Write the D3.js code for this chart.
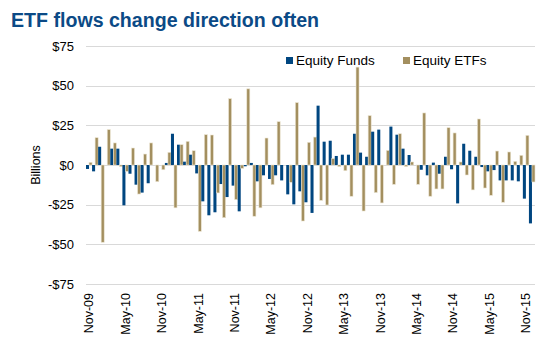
<!DOCTYPE html>
<html>
<head>
<meta charset="utf-8">
<script src="https://cdn.jsdelivr.net/npm/d3@7"></script>
<style>
  body { margin: 0; background: #fff; }
  text { font-family: "Liberation Sans", Arial, sans-serif; }
</style>
</head>
<body>
<div id="chart"></div>
<script>
// monthly flows, Nov-09 .. Dec-15 (billions of dollars)
var months = ["Nov-09","Dec-09","Jan-10","Feb-10","Mar-10","Apr-10","May-10","Jun-10","Jul-10","Aug-10","Sep-10","Oct-10",
  "Nov-10","Dec-10","Jan-11","Feb-11","Mar-11","Apr-11","May-11","Jun-11","Jul-11","Aug-11","Sep-11","Oct-11",
  "Nov-11","Dec-11","Jan-12","Feb-12","Mar-12","Apr-12","May-12","Jun-12","Jul-12","Aug-12","Sep-12","Oct-12",
  "Nov-12","Dec-12","Jan-13","Feb-13","Mar-13","Apr-13","May-13","Jun-13","Jul-13","Aug-13","Sep-13","Oct-13",
  "Nov-13","Dec-13","Jan-14","Feb-14","Mar-14","Apr-14","May-14","Jun-14","Jul-14","Aug-14","Sep-14","Oct-14",
  "Nov-14","Dec-14","Jan-15","Feb-15","Mar-15","Apr-15","May-15","Jun-15","Jul-15","Aug-15","Sep-15","Oct-15",
  "Nov-15","Dec-15"];

var equityFunds = [-2.5, -4, 11.5, 0, 10.3, 10.3, -25.4, -5.5, -12.4, -17.4, -11.5, 0,
  0, 1.3, 19.7, 12.8, 2.1, 6.5, -5.3, -22.9, -31.7, -29.8, -12, -20.2,
  -13, -29.2, -0.8, 1.3, -10.3, -6.5, -8.8, -6.5, -9.7, -18.5, -24.8, -16.6,
  -23.5, -30.2, 37.4, 14.7, 15.3, 5.7, 6.5, 6.5, 19.7, 7.8, 5.2, 21,
  22.3, 0, 24.2, 19.1, 10.3, 6.3, 0, -3, -6.5, 1.5, -5.5, 5.2,
  -2.7, -24.2, 13.4, 9, 5.2, -1.3, -4, -3.2, -9.7, -9.7, -9.7, -10.3,
  -21.2, -36.8];

var equityETFs = [1.7, 17.2, -48.7, 22.3, 13.9, -1, -4, 10.7, -18.3, 6.9, 13.9, -10.5,
  -3, 8, -27, 12.8, 14.9, 9, -41.8, 19.1, 18.9, -17.6, -33.2, 41.8,
  -21.8, -2.1, 48, -32.3, -27, 17, -12.4, 27.3, 0, -10.9, 39.3, -35.3,
  14.3, 17.6, -22.3, -25.2, 4, -1, -3.6, -19.7, 61.7, -29, 31.1, -17.4,
  -23.9, 9.2, -12.2, 19.7, -1, 1.9, -12.2, 32.8, -19.7, -15.1, -15.1, 23.5,
  20.2, 1.9, -6.3, -15.7, 29, -14.5, -19.1, 8.8, -23.5, 8.2, 2.3, 6.1,
  18.7, -10.7];

var seriesNames = ["Equity Funds", "Equity ETFs"];
var seriesColors = ["#004680", "#a38f5f"];
var yTicks = [-75, -50, -25, 0, 25, 50, 75];
var xLabelEvery = 6;

var width = 553, height = 348;
var margin = {top: 46, right: 18, bottom: 64, left: 86};

var svg = d3.select("#chart").append("svg")
    .attr("width", width)
    .attr("height", height);

svg.append("text")
    .attr("x", 11)
    .attr("y", 27)
    .style("font-size", "19.6px")
    .style("font-weight", "bold")
    .style("fill", "#0b4a86")
    .text("ETF flows change direction often");

var x = d3.scaleBand()
    .domain(months)
    .range([margin.left, width - margin.right])
    .paddingInner(0)
    .paddingOuter(0);

var xSub = d3.scaleBand()
    .domain(seriesNames)
    .range([0, x.bandwidth()])
    .padding(0);

var y = d3.scaleLinear()
    .domain([-75, 75])
    .range([height - margin.bottom, margin.top]);

// gridlines
svg.append("g")
    .selectAll("line")
    .data(yTicks)
    .enter().append("line")
    .attr("x1", margin.left)
    .attr("x2", width - margin.right)
    .attr("y1", function (d) { return Math.round(y(d)) + 0.5; })
    .attr("y2", function (d) { return Math.round(y(d)) + 0.5; })
    .style("stroke", "#d9d9d9")
    .style("stroke-width", 1);

// y axis labels
var yAxis = d3.axisLeft(y)
    .tickValues(yTicks)
    .tickSize(0)
    .tickPadding(0)
    .tickFormat(function (d) { return (d < 0 ? "-$" : "$") + Math.abs(d); });

svg.append("g")
    .attr("transform", "translate(" + 74 + ",0)")
    .call(yAxis)
    .call(function (g) { g.select(".domain").remove(); })
    .selectAll("text")
    .style("font-size", "13px")
    .style("fill", "#000")
    .attr("font-family", null);

svg.append("text")
    .attr("transform", "translate(" + 40 + "," + y(0) + ") rotate(-90)")
    .attr("text-anchor", "middle")
    .style("font-size", "12.5px")
    .style("fill", "#000")
    .text("Billions");

// bars
var rows = months.map(function (m, i) {
    return {month: m, values: [equityFunds[i], equityETFs[i]]};
});

var group = svg.append("g")
    .selectAll("g")
    .data(rows)
    .enter().append("g")
    .attr("transform", function (d) { return "translate(" + x(d.month) + ",0)"; });

group.selectAll("rect")
    .data(function (d) {
        return d.values.map(function (v, k) { return {key: seriesNames[k], k: k, value: v}; });
    })
    .enter().append("rect")
    .attr("x", function (d) { return xSub(d.key); })
    .attr("width", xSub.bandwidth())
    .attr("y", function (d) { return y(Math.max(0, d.value)); })
    .attr("height", function (d) { return Math.abs(y(d.value) - y(0)); })
    .style("fill", function (d) { return seriesColors[d.k]; })
    .style("stroke", function (d) { return d.k === 1 ? "#ece5d2" : "none"; })
    .style("stroke-width", 0.6);

// x axis labels
var xAxis = d3.axisBottom(x)
    .tickValues(months.filter(function (m, i) { return i % xLabelEvery === 0; }))
    .tickSize(0)
    .tickPadding(0);

svg.append("g")
    .attr("transform", "translate(0," + (height - margin.bottom) + ")")
    .call(xAxis)
    .call(function (g) { g.select(".domain").remove(); })
    .selectAll("text")
    .attr("transform", "rotate(-90)")
    .attr("x", -9)
    .attr("y", 0)
    .attr("dy", "0.35em")
    .attr("text-anchor", "end")
    .attr("font-family", null)
    .style("font-size", "12.5px")
    .style("fill", "#000");

// legend
var legend = svg.append("g")
    .selectAll("g")
    .data(seriesNames)
    .enter().append("g")
    .attr("transform", function (d, i) { return "translate(" + (i === 0 ? 286 : 403) + ",57)"; });

legend.append("rect")
    .attr("width", 7)
    .attr("height", 7)
    .style("fill", function (d, i) { return seriesColors[i]; });

legend.append("text")
    .attr("x", 10)
    .attr("y", 7.5)
    .style("font-size", "13.5px")
    .style("fill", "#000")
    .text(function (d) { return d; });
</script>
</body>
</html>
